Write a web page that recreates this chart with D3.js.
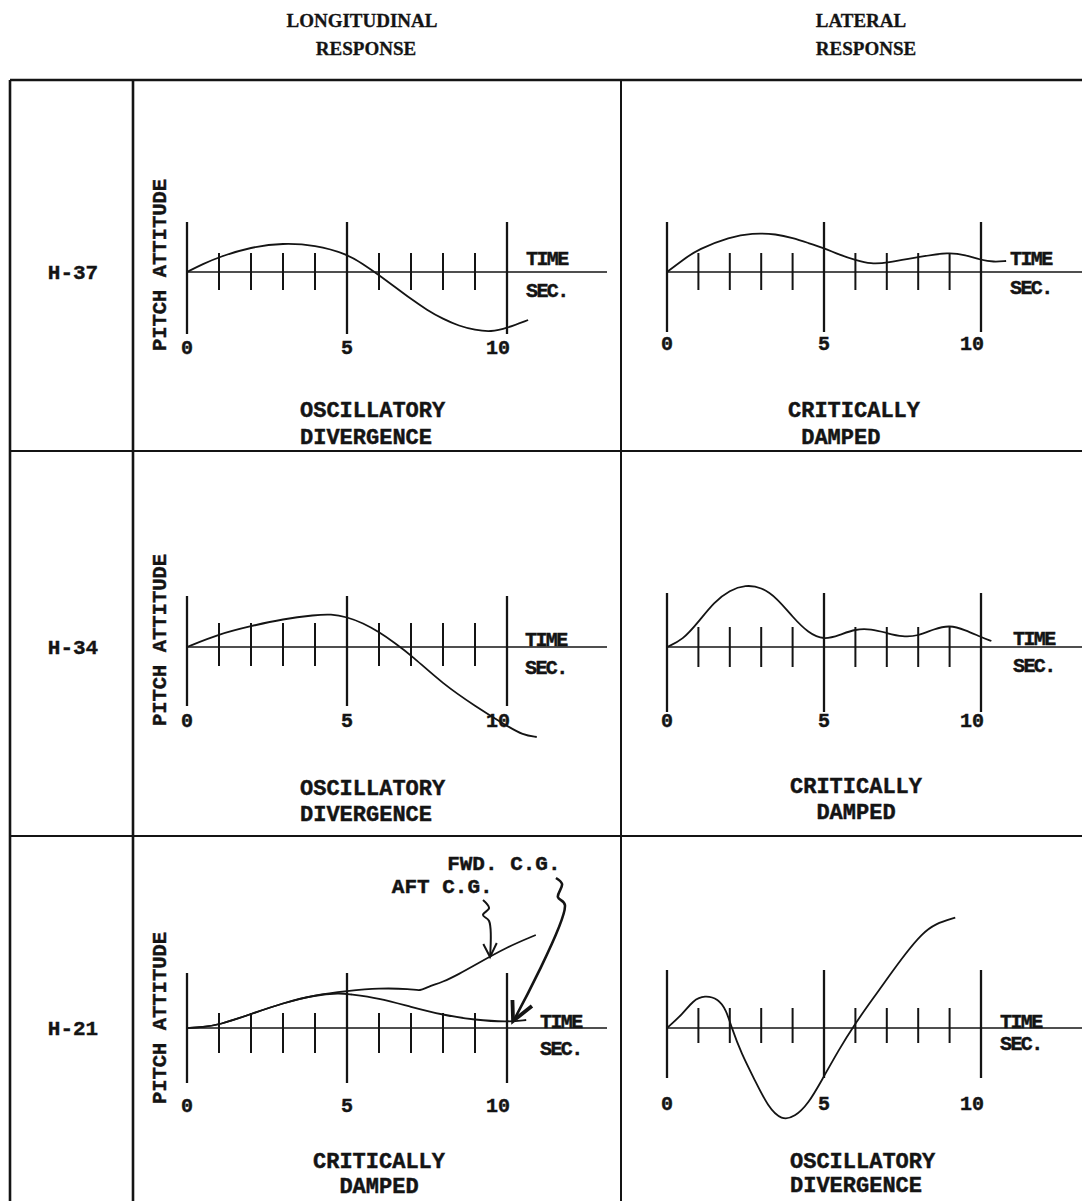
<!DOCTYPE html>
<html><head><meta charset="utf-8">
<script src="https://cdn.jsdelivr.net/npm/d3@7"></script>
<style>html,body{margin:0;padding:0;background:#fff;} svg{display:block;}</style>
</head><body>
<svg id="c" width="1082" height="1201"></svg>
<script>
// ---------------- DATA ----------------
const aircraft = ["H-37", "H-34", "H-21"];
const columnTitles = [["LONGITUDINAL", "RESPONSE"], ["LATERAL", "RESPONSE"]];
const majorTicks = [0, 5, 10];
const minorTicks = [1, 2, 3, 4, 6, 7, 8, 9];
const yAxisTitle = "PITCH ATTITUDE";
const timeUnit = ["TIME", "SEC."];
const captionsH37 = [["OSCILLATORY", "DIVERGENCE"], ["CRITICALLY", "DAMPED"]];
const captionsH34 = [["OSCILLATORY", "DIVERGENCE"], ["CRITICALLY", "DAMPED"]];
const captionsH21 = [["CRITICALLY", "DAMPED"], ["OSCILLATORY", "DIVERGENCE"]];
const cgLabels = ["FWD. C.G.", "AFT C.G."];

// [time (s), response (relative units)]
const h37Longitudinal = [[0,0],[0.5,0.8],[1,1.5],[2,2.5],[3,2.9],[4,2.7],[5,1.8],[5.5,0.8],[6,-0.3],[6.5,-1.5],[7,-2.7],[7.5,-3.8],[8,-4.7],[8.5,-5.4],[9,-5.8],[9.5,-6.0],[10,-5.6],[10.66,-4.8]];
const h37Lateral = [[0,0],[0.5,1.2],[1,2.3],[2,3.5],[2.7,3.9],[3.5,3.8],[4,3.4],[4.5,2.9],[5,2.4],[5.5,1.7],[6,1.2],[6.5,0.8],[7,0.9],[8,1.5],[9,2.0],[9.5,1.7],[10,1.2],[10.4,1.0],[10.8,1.1]];
const h34Longitudinal = [[0,0],[1,1.3],[2,2.1],[3,2.8],[4,3.2],[4.5,3.3],[5,3.0],[5.5,2.4],[6,1.5],[6.5,0.4],[7,-0.8],[8,-3.7],[9,-5.9],[10,-7.9],[10.5,-8.8],[10.93,-9.0]];
const h34Lateral = [[0,0],[0.5,0.7],[1,2.5],[1.5,4.5],[2,5.7],[2.5,6.2],[3,6.0],[3.5,4.9],[4,3.0],[4.5,1.4],[5,0.7],[5.5,1.2],[6,1.8],[6.5,1.8],[7,1.4],[7.5,1.0],[8,1.1],[8.5,1.8],[9,2.2],[9.5,1.7],[10,1.0],[10.33,0.6]];
const h21LongitudinalAft = [[0,0],[0.5,0.1],[1,0.3],[2,1.4],[3,2.5],[4,3.3],[5,3.7],[6,4.0],[7,3.9],[7.3,3.7],[7.5,4.1],[8,4.6],[8.5,5.4],[9,6.3],[10,8.1],[10.9,9.3]];
const h21LongitudinalFwd = [[0,0],[0.5,0.1],[1,0.3],[2,1.4],[3,2.5],[4,3.3],[4.8,3.5],[5,3.4],[6,3.0],[7,2.1],[8,1.3],[9,0.8],[10,0.6],[10.6,0.8]];
const h21Lateral = [[0,0],[0.51,1.43],[0.83,2.77],[1.2,3.27],[1.63,2.93],[1.89,1.77],[2.05,0.1],[2.37,-2.57],[2.8,-5.23],[3.22,-7.9],[3.65,-9.23],[4.07,-8.9],[4.5,-7.57],[4.93,-5.23],[5.46,-2.23],[5.99,0.43],[6.52,2.77],[7.05,5.1],[7.59,7.43],[8.12,9.43],[8.54,10.43],[9.18,11.03]];

// annotation arrows (data coords of the H-21 longitudinal panel)
const aftArrow = [[9.25,12.8],[9.44,12.0],[9.25,11.3],[9.44,10.7],[9.47,7.1]];
const aftHead = [[9.26,8.4],[9.47,7.1],[9.68,8.5]];
const fwdArrow = [[11.53,15.0],[11.72,14.4],[11.59,13.1],[11.81,12.3],[10.25,1.0]];
const fwdHead = [[10.17,2.8],[10.19,0.7],[10.78,2.2]];

// ---------------- LAYOUT ----------------
const svg = d3.select("#c");
const ink = "#141414";
const mono = "'Liberation Mono', 'DejaVu Sans Mono', monospace";
const serif = "'Liberation Serif', 'DejaVu Serif', serif";

const cols = [{x0:187, x10:507, axisEnd:607}, {x0:667, x10:981, axisEnd:1082}];
const rowBase = [272, 647, 1028];

const panels = [
  {r:0,c:0, series:[h37Longitudinal], cap:captionsH37[0], capX:300, indent:0, capY:145, capGap:27, major:[5,-6.2], minor:[1.9,-1.8], lab:82, timeX:526, timeDy:-7, secDy:25},
  {r:0,c:1, series:[h37Lateral], cap:captionsH37[1], capX:788, indent:1, capY:145, capGap:27, major:[5,-6], minor:[1.9,-1.8], lab:78, timeX:1010, timeDy:-7, secDy:22},
  {r:1,c:0, series:[h34Longitudinal], cap:captionsH34[0], capX:300, indent:0, capY:148, capGap:26, major:[5.1,-5.9], minor:[2.4,-1.9], lab:80, timeX:525, timeDy:-1, secDy:27},
  {r:1,c:1, series:[h34Lateral], cap:captionsH34[1], capX:790, indent:2, capY:146, capGap:26, major:[5.4,-6.5], minor:[2.0,-2.0], lab:80, timeX:1013, timeDy:-2, secDy:25},
  {r:2,c:0, series:[h21LongitudinalAft, h21LongitudinalFwd], cap:captionsH21[0], capX:313, indent:2, capY:140, capGap:25, major:[5.5,-5.5], minor:[1.5,-2.5], lab:84, timeX:540, timeDy:0, secDy:27, annotate:true},
  {r:2,c:1, series:[h21Lateral], cap:captionsH21[1], capX:790, indent:0, capY:140, capGap:24, major:[5.8,-5.0], minor:[2.0,-1.5], lab:82, timeX:1000, timeDy:0, secDy:22}
];

// ---------------- TABLE ----------------
const grid = svg.append("g").attr("stroke", ink).attr("fill","none");
const tableTop = 80, rowLines = [451, 836], leftX = 10, labelColX = 133, midX = 621;
grid.append("line").attr("x1",leftX).attr("x2",1082).attr("y1",tableTop).attr("y2",tableTop).attr("stroke-width",2.5);
[leftX, labelColX].forEach(x => grid.append("line").attr("x1",x).attr("x2",x).attr("y1",tableTop).attr("y2",1201).attr("stroke-width",2.6));
grid.append("line").attr("x1",midX).attr("x2",midX).attr("y1",tableTop).attr("y2",1201).attr("stroke-width",2);
rowLines.forEach(y => grid.append("line").attr("x1",leftX).attr("x2",1082).attr("y1",y).attr("y2",y).attr("stroke-width",2));

// headers
const headerX = [[362, 366], [861, 866]];
columnTitles.forEach((t, i) => {
  t.forEach((s, j) => {
    svg.append("text").attr("x", headerX[i][j]).attr("y", j === 0 ? 27 : 55)
      .attr("text-anchor","middle").attr("font-family", serif).attr("font-weight","bold")
      .attr("font-size", 19).attr("fill", ink).attr("stroke", ink).attr("stroke-width", 0.3).text(s);
  });
});

// row labels
aircraft.forEach((a, i) => {
  svg.append("text").attr("x", 73).attr("y", rowBase[i] + 7).attr("text-anchor","middle")
    .attr("font-family", mono).attr("font-weight","bold").attr("font-size", 21)
    .attr("fill", ink).attr("stroke", ink).attr("stroke-width", 0.4).text(a);
});

function monoText(g, x, y, s, size, anchor, ls) {
  return g.append("text").attr("x", x).attr("y", y).attr("text-anchor", anchor || "start")
    .attr("font-family", mono).attr("font-weight","bold").attr("font-size", size)
    .attr("letter-spacing", ls || 0).attr("fill", ink).attr("stroke", ink).attr("stroke-width", 0.45)
    .text(s);
}

// ---------------- PANELS ----------------
panels.forEach(p => {
  const base = rowBase[p.r];
  const col = cols[p.c];
  const x = d3.scaleLinear().domain([0, 10]).range([col.x0, col.x10]);
  const y = d3.scaleLinear().domain([-12, 12]).range([base + 120, base - 120]);
  const g = svg.append("g");

  // time axis line
  g.append("line").attr("x1", x(0)).attr("x2", col.axisEnd).attr("y1", y(0)).attr("y2", y(0))
    .attr("stroke", ink).attr("stroke-width", 1.6);
  // major verticals
  g.selectAll(".maj").data(majorTicks).join("line")
    .attr("x1", d => x(d)).attr("x2", d => x(d)).attr("y1", y(p.major[0])).attr("y2", y(p.major[1]))
    .attr("stroke", ink).attr("stroke-width", 2.3);
  // minor ticks
  g.selectAll(".min").data(minorTicks).join("line")
    .attr("x1", d => x(d)).attr("x2", d => x(d)).attr("y1", y(p.minor[0])).attr("y2", y(p.minor[1]))
    .attr("stroke", ink).attr("stroke-width", 2);
  // tick labels
  majorTicks.forEach(t => {
    monoText(g, x(t) + (t === 10 ? -9 : 0), base + p.lab, String(t), 20, "middle");
  });
  // TIME / SEC.
  monoText(g, p.timeX, base + p.timeDy, timeUnit[0], 20, "start", -1.6);
  monoText(g, p.timeX, base + p.secDy, timeUnit[1], 20, "start", -1.6);
  // y axis title
  if (p.c === 0) {
    g.append("text").attr("transform", `translate(166,${base - (p.r === 2 ? 10 : 7)}) rotate(-90)`)
      .attr("text-anchor","middle").attr("font-family", mono).attr("font-weight","bold")
      .attr("font-size", 20.5).attr("fill", ink).attr("stroke", ink).attr("stroke-width", 0.4).text(yAxisTitle);
  }
  // response curves
  const line = d3.line().x(d => x(d[0])).y(d => y(d[1])).curve(d3.curveBasis);
  p.series.forEach(s => {
    g.append("path").attr("d", line(s)).attr("fill","none").attr("stroke", ink).attr("stroke-width", 1.8);
  });
  // captions
  monoText(g, p.capX, base + p.capY, p.cap[0], 22, "start");
  monoText(g, p.capX + p.indent * 13.2, base + p.capY + p.capGap, p.cap[1], 22, "start");

  if (p.annotate) {
    monoText(g, x(8.13), y(15.8), cgLabels[0], 21, "start");
    monoText(g, x(6.4), y(13.5), cgLabels[1], 21, "start");
    const sq = d3.line().x(d => x(d[0])).y(d => y(d[1])).curve(d3.curveCatmullRom.alpha(0.5));
    const straight = d3.line().x(d => x(d[0])).y(d => y(d[1]));
    g.append("path").attr("d", sq(aftArrow)).attr("fill","none").attr("stroke", ink).attr("stroke-width", 2);
    g.append("path").attr("d", straight(aftHead)).attr("fill","none").attr("stroke", ink).attr("stroke-width", 2);
    g.append("path").attr("d", sq(fwdArrow)).attr("fill","none").attr("stroke", ink).attr("stroke-width", 2.6);
    g.append("path").attr("d", straight(fwdHead)).attr("fill","none").attr("stroke", ink).attr("stroke-width", 3.8).attr("stroke-linejoin","miter");
  }
});
</script>
</body></html>
